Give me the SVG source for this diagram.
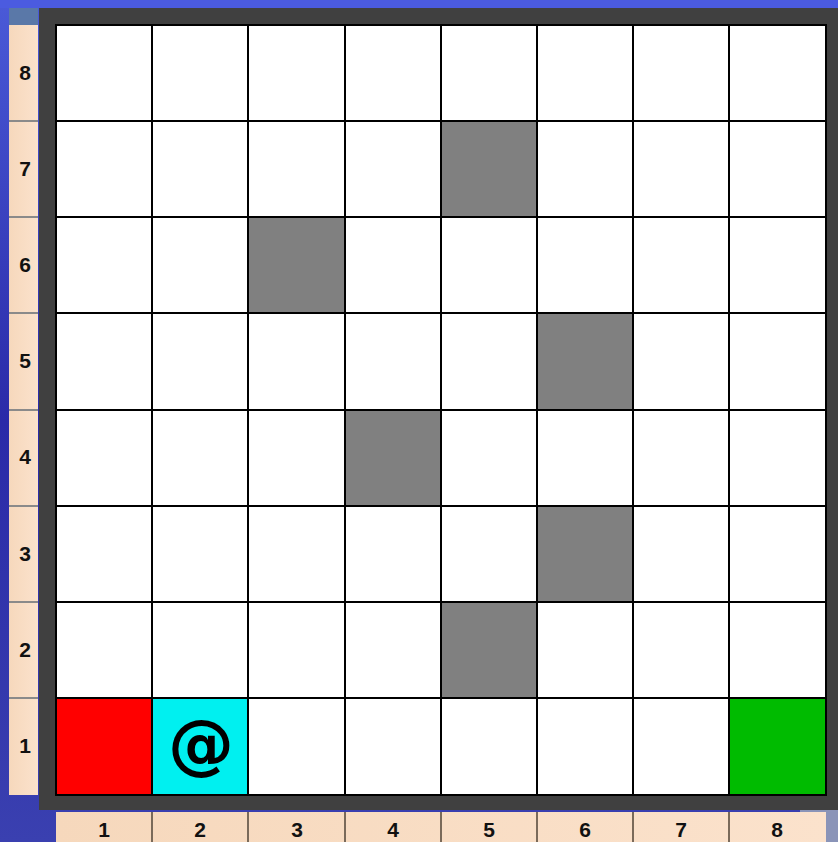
<svg xmlns="http://www.w3.org/2000/svg" width="838" height="842" viewBox="0 0 838 842">
<defs>
<linearGradient id="bg" x1="0" y1="0" x2="0" y2="1">
<stop offset="0" stop-color="#4a5ad8"/>
<stop offset="0.5" stop-color="#2a2aa8"/>
<stop offset="1" stop-color="#3a40b0"/>
</linearGradient>
<linearGradient id="lb" x1="0" y1="0" x2="1" y2="0">
<stop offset="0" stop-color="#f6d8bc"/>
<stop offset="1" stop-color="#fbe2cc"/>
</linearGradient>
</defs>
<style>
.cell{fill:#ffffff;stroke:#000;stroke-width:2}
.wall{fill:#808080;stroke:#000;stroke-width:2}
.lab{fill:url(#lb)}
.sep{stroke:#8a8a8a;stroke-width:2}
.num{font-family:"Liberation Sans",Arial,sans-serif;font-weight:bold;font-size:21px;fill:#111;text-anchor:middle}
</style>
<rect x="0" y="0" width="838" height="842" fill="url(#bg)"/>
<rect x="0" y="0" width="838" height="8" fill="#4b5be0"/>
<rect x="800" y="810" width="38" height="32" fill="#8a94b8"/>
<g id="row-labels">
<rect class="lab" x="9" y="25" width="29" height="770"/>
<rect x="9" y="8" width="29" height="17" fill="#5a78a8"/>
<line class="sep" x1="9" y1="121" x2="38" y2="121"/>
<line class="sep" x1="9" y1="217" x2="38" y2="217"/>
<line class="sep" x1="9" y1="313" x2="38" y2="313"/>
<line class="sep" x1="9" y1="410" x2="38" y2="410"/>
<line class="sep" x1="9" y1="506" x2="38" y2="506"/>
<line class="sep" x1="9" y1="602" x2="38" y2="602"/>
<line class="sep" x1="9" y1="698" x2="38" y2="698"/>
<text class="num" x="25" y="80">8</text>
<text class="num" x="25" y="176">7</text>
<text class="num" x="25" y="272">6</text>
<text class="num" x="25" y="368">5</text>
<text class="num" x="25" y="464">4</text>
<text class="num" x="25" y="561">3</text>
<text class="num" x="25" y="657">2</text>
<text class="num" x="25" y="753">1</text>
</g>
<g id="col-labels">
<rect class="lab" x="56" y="812" width="770" height="30"/>
<line x1="152" y1="812" x2="152" y2="842" stroke="#7a6a5a" stroke-width="2"/>
<line x1="248" y1="812" x2="248" y2="842" stroke="#7a6a5a" stroke-width="2"/>
<line x1="345" y1="812" x2="345" y2="842" stroke="#7a6a5a" stroke-width="2"/>
<line x1="441" y1="812" x2="441" y2="842" stroke="#7a6a5a" stroke-width="2"/>
<line x1="537" y1="812" x2="537" y2="842" stroke="#7a6a5a" stroke-width="2"/>
<line x1="633" y1="812" x2="633" y2="842" stroke="#7a6a5a" stroke-width="2"/>
<line x1="729" y1="812" x2="729" y2="842" stroke="#7a6a5a" stroke-width="2"/>
<text class="num" x="104" y="837">1</text>
<text class="num" x="200" y="837">2</text>
<text class="num" x="297" y="837">3</text>
<text class="num" x="393" y="837">4</text>
<text class="num" x="489" y="837">5</text>
<text class="num" x="585" y="837">6</text>
<text class="num" x="681" y="837">7</text>
<text class="num" x="777" y="837">8</text>
</g>
<rect id="frame" x="39" y="8" width="799" height="802" fill="#404040"/>
<g id="grid">
<rect class="cell" x="56" y="25" width="770" height="770"/>
<g stroke="#000" stroke-width="2">
<line x1="152" y1="25" x2="152" y2="795"/>
<line x1="248" y1="25" x2="248" y2="795"/>
<line x1="345" y1="25" x2="345" y2="795"/>
<line x1="441" y1="25" x2="441" y2="795"/>
<line x1="537" y1="25" x2="537" y2="795"/>
<line x1="633" y1="25" x2="633" y2="795"/>
<line x1="729" y1="25" x2="729" y2="795"/>
<line x1="56" y1="121" x2="826" y2="121"/>
<line x1="56" y1="217" x2="826" y2="217"/>
<line x1="56" y1="313" x2="826" y2="313"/>
<line x1="56" y1="410" x2="826" y2="410"/>
<line x1="56" y1="506" x2="826" y2="506"/>
<line x1="56" y1="602" x2="826" y2="602"/>
<line x1="56" y1="698" x2="826" y2="698"/>
</g>
</g>
<g id="walls">
<rect class="wall" x="441" y="121" width="96" height="96"/>
<rect class="wall" x="248" y="217" width="97" height="96"/>
<rect class="wall" x="537" y="313" width="96" height="97"/>
<rect class="wall" x="345" y="410" width="96" height="96"/>
<rect class="wall" x="537" y="506" width="96" height="96"/>
<rect class="wall" x="441" y="602" width="96" height="96"/>
</g>
<g id="start"><rect x="56" y="698" width="96" height="97" fill="#ff0000" stroke="#000" stroke-width="2"/></g>
<g id="agent"><rect x="152" y="698" width="96" height="97" fill="#00f0f0" stroke="#000" stroke-width="2"/>
<text x="201" y="767" font-family="DejaVu Sans, Liberation Sans, sans-serif" font-weight="bold" font-size="66" text-anchor="middle" fill="#000">@</text></g>
<g id="goal"><rect x="729" y="698" width="97" height="97" fill="#00bb00" stroke="#000" stroke-width="2"/></g>
</svg>
